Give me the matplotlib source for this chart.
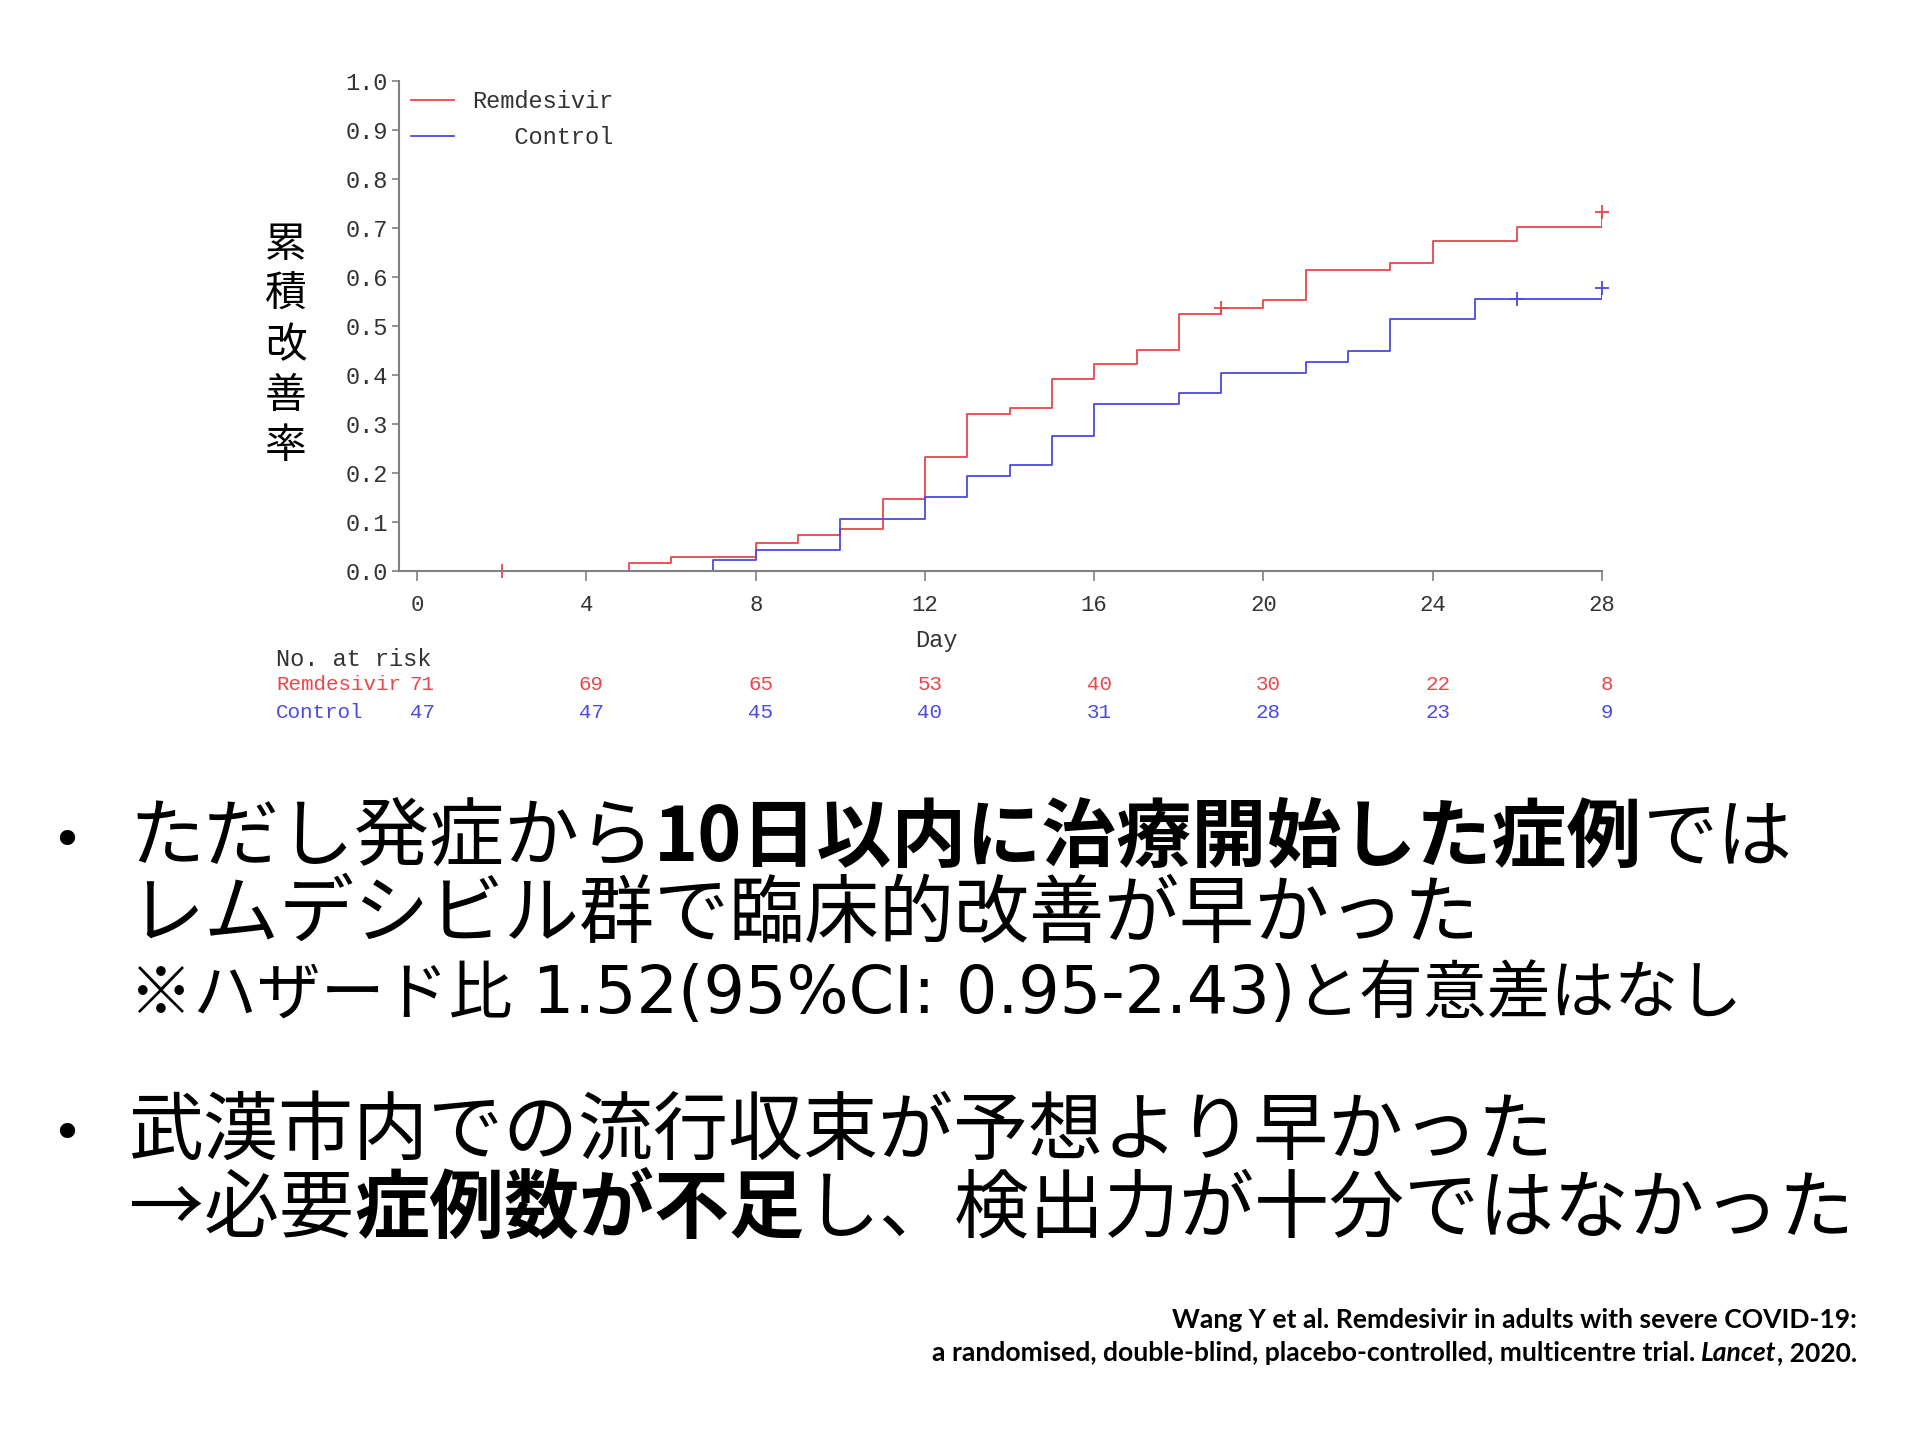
import matplotlib
matplotlib.use('Agg')
import matplotlib.pyplot as plt
import matplotlib.transforms as mtransforms

# cumulative improvement steps
remd_days = [0, 5, 6, 8, 9, 10, 11, 12, 13, 14, 15, 16, 17, 18, 19, 20, 21, 23, 24, 26, 28]
remd_vals = [0, 0.016, 0.029, 0.058, 0.073, 0.086, 0.146, 0.232, 0.321, 0.333, 0.392,
             0.423, 0.451, 0.524, 0.537, 0.554, 0.614, 0.629, 0.673, 0.703, 0.732]
ctrl_days = [0, 7, 8, 10, 12, 13, 14, 15, 16, 18, 19, 21, 22, 23, 25, 28]
ctrl_vals = [0, 0.022, 0.042, 0.107, 0.151, 0.193, 0.216, 0.276, 0.341, 0.363,
             0.405, 0.427, 0.449, 0.514, 0.556, 0.578]

# censor marks
remd_cens_days = [2, 19, 28]
remd_cens_vals = [0, 0.537, 0.732]
ctrl_cens_days = [26, 28]
ctrl_cens_vals = [0.556, 0.578]

# number at risk
risk_days = [0, 4, 8, 12, 16, 20, 24, 28]
remd_risk = [71, 69, 65, 53, 40, 30, 22, 8]
ctrl_risk = [47, 47, 45, 40, 31, 28, 23, 9]

x_ticks = [0, 4, 8, 12, 16, 20, 24, 28]
y_ticks = [0.0, 0.1, 0.2, 0.3, 0.4, 0.5, 0.6, 0.7, 0.8, 0.9, 1.0]

RED = '#e8474c'
BLUE = '#4b4be0'
GRAY = '#808080'
MONO = 'Liberation Mono'
CJK = ['Noto Sans CJK JP', 'DejaVu Sans']

W, H = 1920, 1440
fig = plt.figure(figsize=(19.2, 14.4), dpi=100)
renderer = fig.canvas.get_renderer()


def fx(x):
    return x / W


def fy(y):
    return 1 - y / H


ax = fig.add_axes([fx(399), fy(571), fx(1602) - fx(399), fy(81) - fy(571)])
ax.step(remd_days, remd_vals, where='post', color=RED, lw=1.3, label='Remdesivir')
ax.step(ctrl_days, ctrl_vals, where='post', color=BLUE, lw=1.3, label='   Control')
ax.plot(remd_cens_days, remd_cens_vals, '+', color=RED, ms=10, mew=1.3, clip_on=False)
ax.plot(ctrl_cens_days, ctrl_cens_vals, '+', color=BLUE, ms=10, mew=1.3, clip_on=False)

ax.set_xlim(-0.43, 28)
ax.set_ylim(0, 1.0)
ax.spines['top'].set_visible(False)
ax.spines['right'].set_visible(False)
for s in ['left', 'bottom']:
    ax.spines[s].set_color(GRAY)
    ax.spines[s].set_linewidth(1.5)
ax.set_xticks(x_ticks)
ax.set_xticklabels([str(v) for v in x_ticks], fontfamily=MONO, fontsize=16, color='#333333')
ax.set_yticks(y_ticks)
ax.set_yticklabels(['%.1f' % v for v in y_ticks], fontfamily=MONO, fontsize=17, color='#333333')
ax.tick_params(axis='x', direction='out', length=7, width=1.2, color=GRAY, pad=10)
ax.tick_params(axis='y', direction='out', length=5, width=1.2, color=GRAY, pad=3)

ax.set_xlabel('Day', fontfamily=MONO, fontsize=17, color='#333333')
ax.xaxis.set_label_coords(0.447, (571 - 640) / 490)
ax.xaxis.label.set_va('center')

leg = ax.legend(loc='upper left', bbox_to_anchor=(fx(411), fy(90)),
                bbox_transform=fig.transFigure, frameon=False,
                prop={'family': MONO, 'size': 17}, handlelength=1.8,
                handletextpad=0.8, labelspacing=0.55, borderpad=0, borderaxespad=0)
for t in leg.get_texts():
    t.set_color('#333333')

# y label, stacked upright
fig.text(fx(286), fy(346), '累\n積\n改\n善\n率', ha='center', va='center',
         family=CJK, fontsize=30, linespacing=1.29)

# number at risk table
fig.text(fx(276), fy(659), 'No. at risk', family=MONO, fontsize=17,
         color='#333333', ha='left', va='center')
fig.text(fx(276), fy(684), 'Remdesivir', family=MONO, fontsize=15,
         color=RED, ha='left', va='center')
fig.text(fx(276), fy(712), 'Control', family=MONO, fontsize=15,
         color=BLUE, ha='left', va='center')
trans = mtransforms.blended_transform_factory(ax.transData, fig.transFigure)
trans = mtransforms.offset_copy(trans, fig=fig, x=5, y=0, units='dots')
for d, r, c in zip(risk_days, remd_risk, ctrl_risk):
    ax.text(d, fy(684), str(r), transform=trans, ha='center', va='center',
            family=MONO, fontsize=15, color=RED, clip_on=False)
    ax.text(d, fy(712), str(c), transform=trans, ha='center', va='center',
            family=MONO, fontsize=15, color=BLUE, clip_on=False)


def text_width(s, **kw):
    t = fig.text(0, 0, '|' + s + '|', **kw)
    w1 = t.get_window_extent(renderer).width
    t.set_text('||')
    w0 = t.get_window_extent(renderer).width
    t.remove()
    return w1 - w0


def rich_line(x, y, runs, ha='left', **common):
    widths = []
    for s, p in runs:
        kw = dict(common)
        kw.update(p)
        widths.append(text_width(s, **kw))
    if ha == 'right':
        x = x - sum(widths)
    for (s, p), w in zip(runs, widths):
        kw = dict(common)
        kw.update(p)
        fig.text(fx(x), fy(y), s, ha='left', va='center', **kw)
        x += w


REG = {}
BOLD = {'fontweight': 'bold'}
LATIN = {'family': ['DejaVu Sans'], 'fontsize': 47}

# bullets
fig.text(fx(67), fy(842), '•', family='DejaVu Sans', fontsize=38, ha='center', va='center')
fig.text(fx(67), fy(1135), '•', family='DejaVu Sans', fontsize=38, ha='center', va='center')

rich_line(129, 839, [('ただし発症から', REG), ('10日以内に治療開始した症例', BOLD), ('では', REG)],
          family=CJK, fontsize=54)
rich_line(129, 915, [('レムデシビル群で臨床的改善が早かった', REG)], family=CJK, fontsize=54)
rich_line(129, 995, [('※ハザード比', REG), (' 1.52(95%CI: 0.95-2.43)', LATIN), ('と有意差はなし', REG)],
          family=CJK, fontsize=46)
rich_line(129, 1132, [('武漢市内での流行収束が予想より早かった', REG)], family=CJK, fontsize=54)
rich_line(129, 1210, [('→必要', REG), ('症例数が不足', BOLD), ('し、検出力が十分ではなかった', REG)],
          family=CJK, fontsize=54)

# citation
cite1 = 'Wang Y et al. Remdesivir in adults with severe COVID-19:'
cite2 = [('a randomised, double-blind, placebo-controlled, multicentre trial. ', {}),
         ('Lancet', {'fontstyle': 'italic'}), (', 2020.', {})]
w_test = 0
for s, p in cite2:
    w_test += text_width(s, family='Lato', fontweight='bold', fontsize=20, **p)
cs = 20 * 927 / w_test
rich_line(1857, 1320, [(cite1, {})], ha='right', family='Lato', fontweight='bold', fontsize=cs)
rich_line(1857, 1353, cite2, ha='right', family='Lato', fontweight='bold', fontsize=cs)

fig.savefig('out.png', dpi=100)
